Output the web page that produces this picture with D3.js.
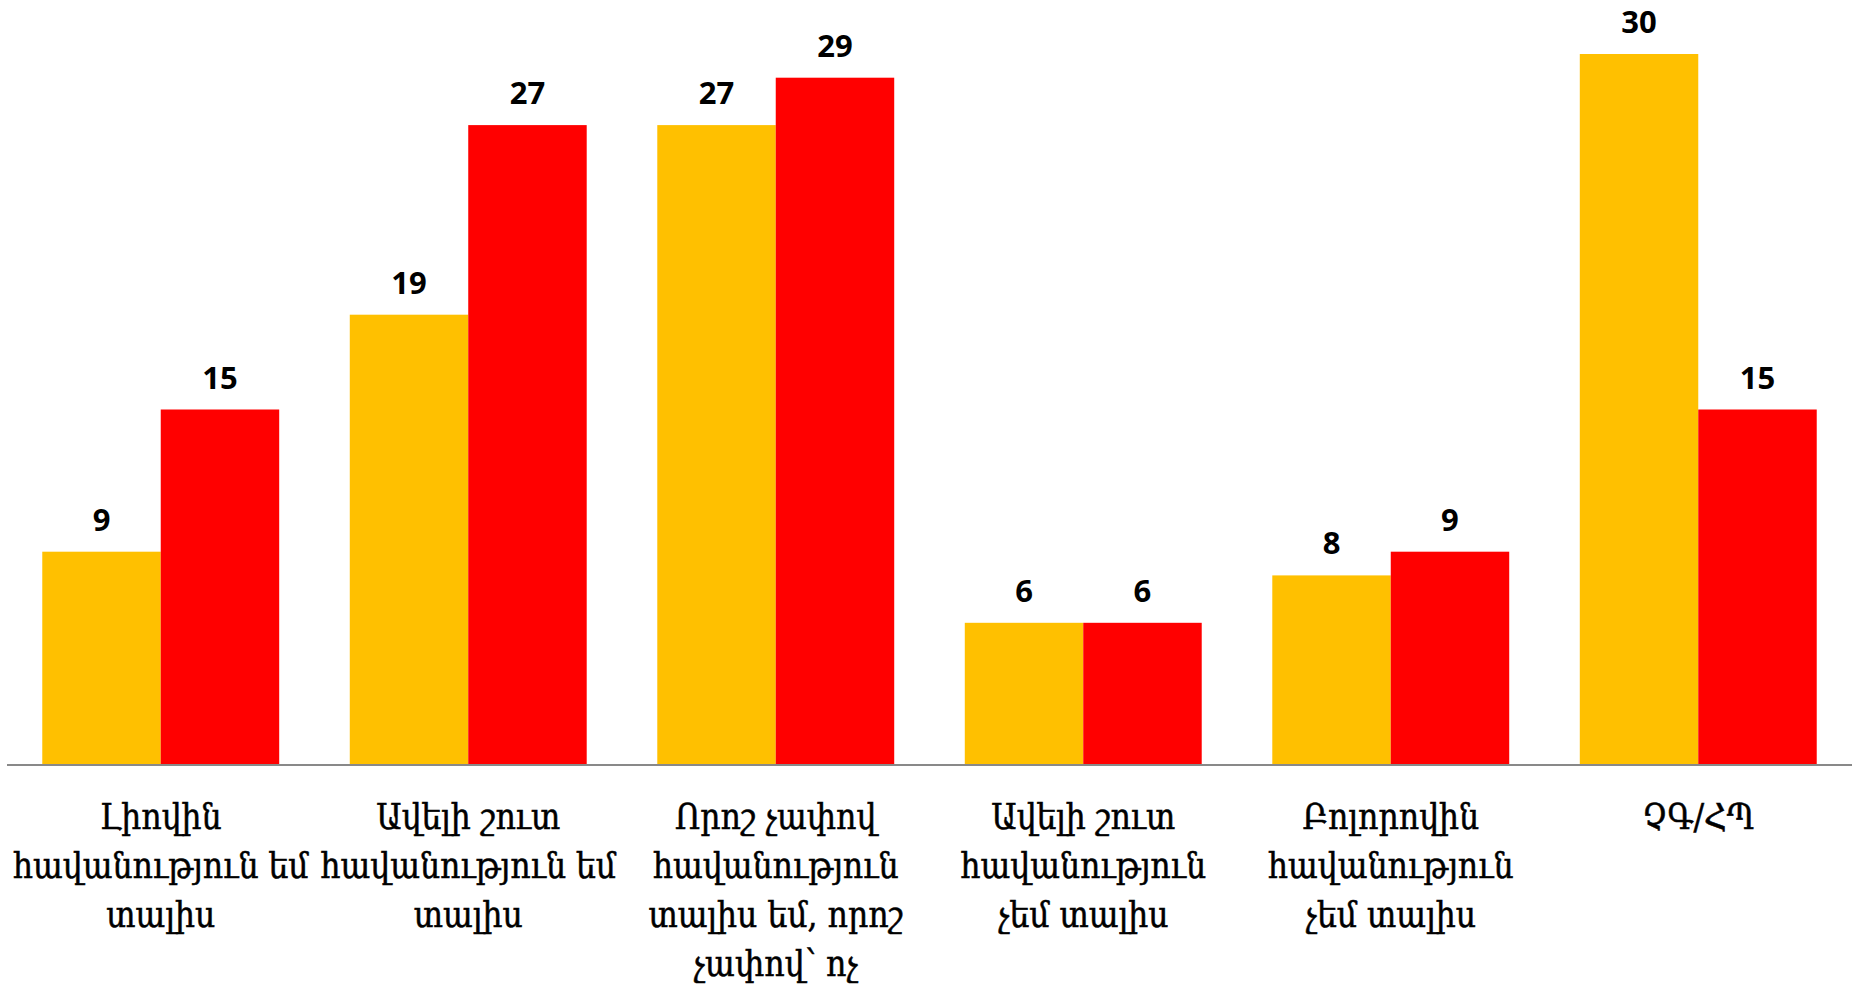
<!DOCTYPE html>
<html>
<head>
<meta charset="utf-8">
<script src="https://cdn.jsdelivr.net/npm/d3@7"></script>
<style>
  html, body { margin: 0; padding: 0; background: #ffffff; }
  svg { display: block; }
</style>
</head>
<body>
<svg id="chart" width="1856" height="986"></svg>
<script>
// Categories (wrapped onto lines as they appear under the axis)
const categories = [
  "Լիովին\nհավանություն եմ\nտալիս",
  "Ավելի շուտ\nհավանություն եմ\nտալիս",
  "Որոշ չափով\nհավանություն\nտալիս եմ, որոշ\nչափով՝ ոչ",
  "Ավելի շուտ\nհավանություն\nչեմ տալիս",
  "Բոլորովին\nհավանություն\nչեմ տալիս",
  "ՉԳ/ՀՊ"
];
const seriesA = [9, 19, 27, 6, 8, 30];
const seriesB = [15, 27, 29, 6, 9, 15];
const seriesColors = ["#FFC000", "#FF0000"];

const svg = d3.select("#chart");
const margin = { left: 7, right: 4, top: 4, bottom: 221 };
const W = 1856, H = 986;
const baseY = H - margin.bottom; // 765

const x0 = d3.scaleBand()
  .domain(d3.range(categories.length))
  .range([margin.left, W - margin.right])
  .paddingInner(0.2295)
  .paddingOuter(0.1147);

const x1 = d3.scaleBand()
  .domain([0, 1])
  .range([0, x0.bandwidth()]);

const y = d3.scaleLinear()
  .domain([0, 32])
  .range([baseY, baseY - 32 * 23.7]);

const rows = categories.map((c, i) => ({ i, vals: [seriesA[i], seriesB[i]] }));

const groups = svg.append("g").selectAll("g")
  .data(rows)
  .join("g")
  .attr("transform", d => `translate(${x0(d.i)},0)`);

groups.selectAll("rect")
  .data(d => d.vals.map((v, k) => ({ k, v })))
  .join("rect")
  .attr("x", d => x1(d.k))
  .attr("width", x1.bandwidth())
  .attr("y", d => y(d.v))
  .attr("height", d => y(0) - y(d.v))
  .attr("fill", d => seriesColors[d.k]);

groups.selectAll("text.val")
  .data(d => d.vals.map((v, k) => ({ k, v })))
  .join("text")
  .attr("class", "val")
  .attr("x", d => x1(d.k) + x1.bandwidth() / 2)
  .attr("y", d => y(d.v) - 21)
  .attr("text-anchor", "middle")
  .attr("font-family", "'Open Sans', sans-serif")
  .attr("font-weight", 700)
  .attr("font-size", 31)
  .attr("fill", "#000")
  .text(d => d.v);

// Category axis
const xAxisScale = d3.scaleBand()
  .domain(categories)
  .range([margin.left, W - margin.right]);

const axis = svg.append("g")
  .attr("transform", `translate(0,${baseY})`)
  .call(d3.axisBottom(xAxisScale).tickSize(0).tickFormat(""));

axis.select(".domain")
  .attr("stroke", "#898989")
  .attr("stroke-width", 2)
  .attr("d", `M${margin.left},0H${W - margin.right}`);

const labels = svg.append("g").selectAll("text")
  .data(categories)
  .join("text")
  .attr("x", d => xAxisScale(d) + xAxisScale.bandwidth() / 2)
  .attr("y", baseY + 64)
  .attr("text-anchor", "middle")
  .attr("font-family", "'DejaVu Serif Condensed', 'DejaVu Serif', serif")
  .attr("font-size", 35)
  .attr("fill", "#000")
  .attr("stroke", "#000")
  .attr("stroke-width", 0.5);

labels.selectAll("tspan")
  .data(d => d.split("\n"))
  .join("tspan")
  .attr("x", function () { return this.parentNode.getAttribute("x"); })
  .attr("dy", (d, i) => i === 0 ? 0 : 49)
  .text(d => d);
</script>
</body>
</html>
